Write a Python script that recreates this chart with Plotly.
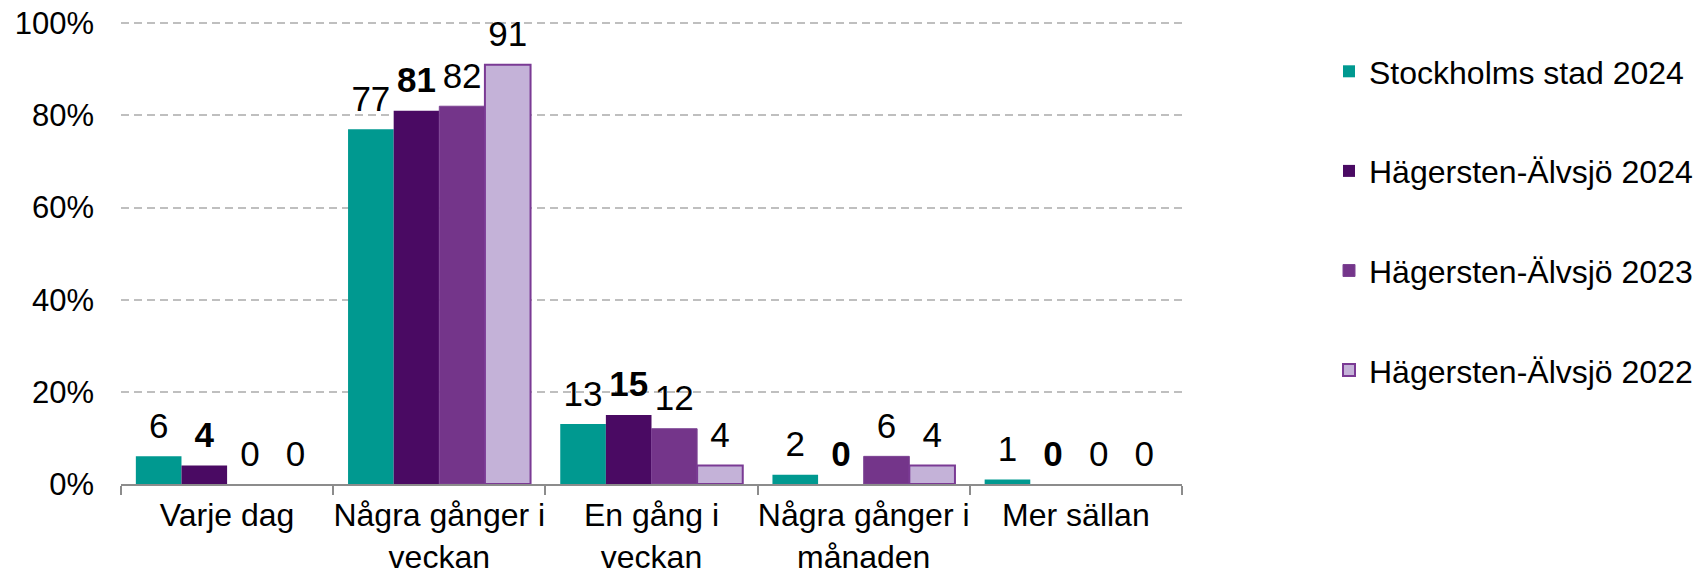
import plotly.graph_objects as go

categories = ["Varje dag", "Några gånger i<br>veckan", "En gång i<br>veckan",
              "Några gånger i<br>månaden", "Mer sällan"]
series_names = ["Stockholms stad 2024", "Hägersten-Älvsjö 2024",
                "Hägersten-Älvsjö 2023", "Hägersten-Älvsjö 2022"]
stockholm_2024 = [6, 77, 13, 2, 1]
hagersten_2024 = [4, 81, 15, 0, 0]
hagersten_2023 = [0, 82, 12, 6, 0]
hagersten_2022 = [0, 91, 4, 4, 0]
y_ticks = [0, 20, 40, 60, 80, 100]
y_tick_labels = ["0%", "20%", "40%", "60%", "80%", "100%"]

all_values = [stockholm_2024, hagersten_2024, hagersten_2023, hagersten_2022]
fill_colors = ["#009990", "#4a0a63", "#74358a", "#c4b2d8"]
line_colors = ["#009990", "#4a0a63", "#7d4494", "#7a3a94"]
line_widths = [0, 0, 1, 2]
bold = [False, True, False, False]

FONT = "Arial, Liberation Sans, sans-serif"
# page body has an 8px default margin, so the figure is drawn 8px smaller
W, H = 1698, 567
GAP = 0.14

fig = go.Figure()
for i, (name, vals) in enumerate(zip(series_names, all_values)):
    fig.add_trace(go.Bar(
        x=categories,
        # zero-height bars are left empty so no outline is drawn for them
        y=[v if v > 0 else None for v in vals],
        name=name,
        offsetgroup=f"g{i}",
        marker=dict(color=fill_colors[i],
                    line=dict(color=line_colors[i], width=line_widths[i])),
        legendgroup=f"g{i}",
    ))
for i, (name, vals) in enumerate(zip(series_names, all_values)):
    fig.add_trace(go.Scatter(
        x=categories, y=vals, name=name,
        offsetgroup=f"g{i}",
        mode="markers+text",
        marker=dict(size=14, color="rgba(0,0,0,0)"),
        text=[f"<b>{v}</b>" if bold[i] else str(v) for v in vals],
        textposition="top center",
        textfont=dict(family=FONT, size=35, color="#000000"),
        cliponaxis=False,
        showlegend=False, hoverinfo="skip",
        legendgroup=f"g{i}",
    ))

fig.update_layout(
    width=W, height=H,
    barmode="group", bargap=GAP, bargroupgap=0,
    scattermode="group", scattergap=GAP,
    plot_bgcolor="white", paper_bgcolor="white",
    margin=dict(l=113, r=524, t=13, b=91, autoexpand=False),
    font=dict(family=FONT, color="#000000"),
    showlegend=True,
    legend=dict(
        xref="container", yref="container",
        x=1321 / W, y=1 - 36 / H, xanchor="left", yanchor="top",
        font=dict(family=FONT, size=32, color="#000000"),
        traceorder="grouped", tracegroupgap=55,
        bgcolor="rgba(0,0,0,0)", maxheight=560,
    ),
)
fig.update_xaxes(
    type="category", showline=True, linecolor="#8c8c8c", linewidth=2,
    ticks="outside", tickson="boundaries", ticklen=9, tickwidth=2, tickcolor="#8c8c8c",
    tickfont=dict(family=FONT, size=32, color="#000000"),
    tickangle=0, automargin=False, ticklabelstandoff=2,
    ticklabeloverflow="allow",
    showgrid=False,
)
fig.update_yaxes(
    range=[0, 100.5], tickvals=y_ticks, ticktext=y_tick_labels,
    showline=False, zeroline=False, ticks="", automargin=False,
    showgrid=True, gridcolor="#bfbfbf", gridwidth=1.5, griddash="8px,5px",
    tickfont=dict(family=FONT, size=31, color="#000000"),
    ticklabelstandoff=26, ticklabeloverflow="allow",
)

fig.write_html("out.html")
